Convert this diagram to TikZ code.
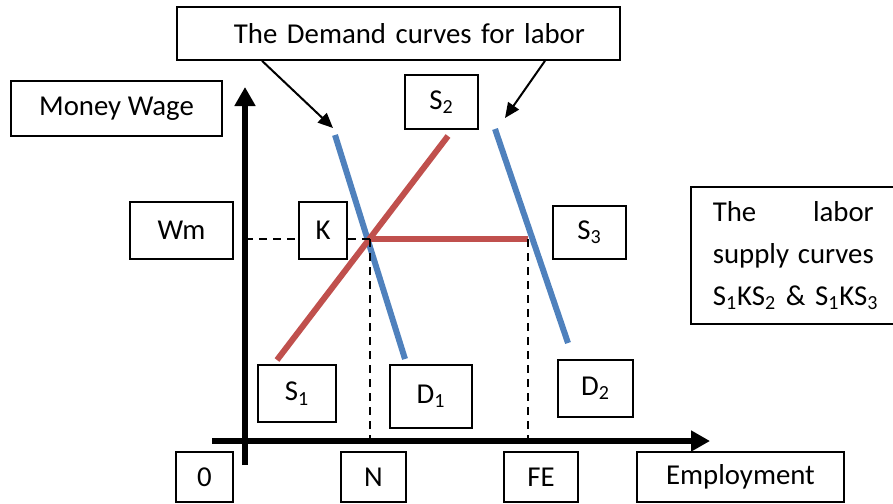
\documentclass[tikz,border=0pt]{standalone}
\usepackage{fontspec}
\setmainfont{Carlito}
\usepackage{tikz}
\usetikzlibrary{arrows.meta}
\definecolor{demand}{HTML}{4F81BD}
\definecolor{supply}{HTML}{C0504D}

\begin{document}
\begin{tikzpicture}[x=.5pt,y=-.5pt,font=\fontsize{14.4}{21}\selectfont,
  lab/.style={draw,line width=.8pt,inner sep=0pt},
  axisline/.style={line width=3pt,-{Triangle[length=9.5pt,width=10pt]}},
  guide/.style={line width=1pt,dash pattern=on 4pt off 3pt},
  pointer/.style={line width=1pt,-{Triangle[length=7.5pt,width=6.5pt]}}]
\useasboundingbox (0,0) rectangle (893,503);
\node[lab,minimum width=221.5pt,minimum height=26.5pt,text width=186.5pt,align=right,inner xsep=17.5pt] (title) at (398.5,33.5) {The Demand curves for labor};
\node[lab,minimum width=105.5pt,minimum height=27.5pt] (wage) at (116.5,108.5) {Money Wage};
\node[lab,minimum width=51.5pt,minimum height=28.5pt] (wm) at (181.5,230.5) {Wm};
\node[lab,minimum width=24pt,minimum height=28.5pt] (k) at (323,230.5) {K};
\node[lab,minimum width=36.5pt,minimum height=27pt] (s2) at (441.5,102) {S\textsubscript{2}};
\node[lab,minimum width=36.5pt,minimum height=26.5pt] (s3) at (589.5,232.5) {S\textsubscript{3}};
\node[lab,minimum width=39pt,minimum height=28.5pt] (s1) at (297,393.5) {S\textsubscript{1}};
\node[lab,minimum width=41pt,minimum height=31.5pt] (d1) at (431,396.5) {D\textsubscript{1}};
\node[lab,minimum width=37.5pt,minimum height=28.5pt] (d2) at (595.5,388.5) {D\textsubscript{2}};
\node[lab,minimum width=28.5pt,minimum height=25pt] (zero) at (204.5,477) {0};
\node[lab,minimum width=32.5pt,minimum height=25pt] (n) at (373.5,477) {N};
\node[lab,minimum width=37pt,minimum height=25pt] (fe) at (541,477) {FE};
\node[lab,minimum width=103.5pt,minimum height=25pt] (emp) at (740.5,477) {Employment};
\node[lab,anchor=north west,text width=80.5pt,inner xsep=11pt,minimum height=68.5pt,align=left] (note) at (690,186)
  {The\hfill labor\\supply\hfill curves\\\mbox{S\textsubscript{1}KS\textsubscript{2} \& S\textsubscript{1}KS\textsubscript{3}}};
\coordinate (E) at (370,239);
\coordinate (F) at (528,239);
\coordinate (ybot) at (245,465);
\coordinate (ytop) at (245,87);
\coordinate (xleft) at (212,441);
\coordinate (xright) at (710,441);
\coordinate (tipA) at (333,128);
\coordinate (tipB) at (505,118);
\draw[demand,line width=3pt] (335,135) -- (405,359);
\draw[demand,line width=3pt] (495,129) -- (568,343);
\draw[supply,line width=3pt] (277,360) -- (448,136);
\draw[supply,line width=3pt] (E) -- (F);
\draw[guide] (ybot |- E) -- (E -| k.west);
\draw[guide] (E -| k.east) -- (E);
\draw[guide,shorten >=2pt] (E) -- (E |- n.north);
\draw[guide] (F) -- (F |- xleft);
\draw[axisline] (ybot) -- (ytop);
\draw[axisline] (xleft) -- (xright);
\draw[pointer] (262,0 |- title.south) -- (tipA);
\draw[pointer] (545,0 |- title.south) -- (tipB);
\end{tikzpicture}
\end{document}
